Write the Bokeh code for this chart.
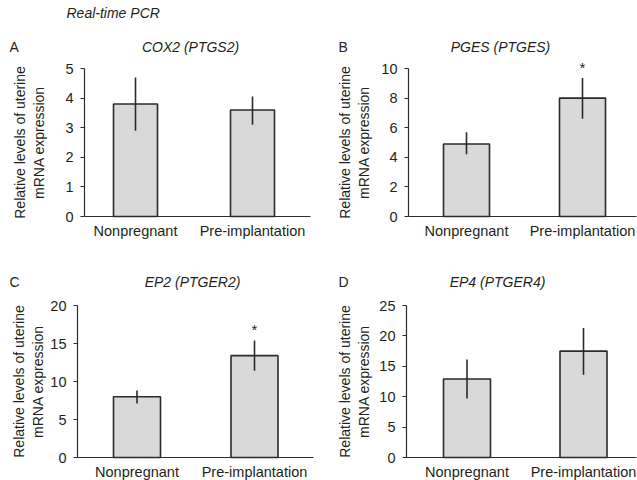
import math
from bokeh.plotting import figure
from bokeh.layouts import column, row
from bokeh.models import Range1d, FixedTicker, Label, LabelSet, ColumnDataSource
from bokeh.core.properties import value
from bokeh.embed import file_html
from bokeh.resources import INLINE

# ---------------- data ----------------
categories = ["Nonpregnant", "Pre-implantation"]

cox2_mean = [3.8, 3.6]
cox2_low = [2.9, 3.1]
cox2_high = [4.7, 4.05]
cox2_sig = ["", ""]
cox2_ticks = [0, 1, 2, 3, 4, 5]

pges_mean = [4.9, 8.0]
pges_low = [4.2, 6.6]
pges_high = [5.7, 9.35]
pges_sig = ["", "*"]
pges_ticks = [0, 2, 4, 6, 8, 10]

ep2_mean = [8.0, 13.4]
ep2_low = [7.1, 11.4]
ep2_high = [8.8, 15.4]
ep2_sig = ["", "*"]
ep2_ticks = [0, 5, 10, 15, 20]

ep4_mean = [12.9, 17.5]
ep4_low = [9.7, 13.6]
ep4_high = [16.1, 21.3]
ep4_sig = ["", ""]
ep4_ticks = [0, 5, 10, 15, 20, 25]

header_text = "Real-time PCR"
ylabel_text = "Relative levels of uterine\nmRNA expression"

# ---------------- style ----------------
FONT = "Liberation Sans"
TXT = "#231f20"
DARK = "#2b2b2b"
FILL = "#d9d9d9"
FS = "14px"


def panel(letter, title, means, lows, highs, sig, ticks, *, W, H,
          ax_left, ax_right, c0, c1, y_zero, y_top, bar_px,
          ylab_x, letter_x, title_x, text_y, header_xy=None):
    """All layout arguments are pixel positions inside the figure (from top-left)."""
    xs = [i + 0.5 for i in range(len(categories))]
    # linear pixel <-> data mapping (frame == whole figure)
    kx = (c1 - c0) / (xs[1] - xs[0])          # px per x unit
    x0 = xs[0] - c0 / kx
    x1 = x0 + W / kx
    ymax = ticks[-1]
    ky = (y_zero - y_top) / (ymax - ticks[0])  # px per y unit
    yb = ticks[0] - (H - y_zero) / ky
    yt = ticks[0] + y_zero / ky

    def dx(px):
        return x0 + px / kx

    def dy(py):
        return yb + (H - py) / ky

    p = figure(width=W, height=H, output_backend="svg", toolbar_location=None,
               x_range=Range1d(x0, x1), y_range=Range1d(yb, yt),
               min_border=0, min_border_left=0, min_border_right=0,
               min_border_top=0, min_border_bottom=0)
    p.outline_line_color = None
    p.xgrid.visible = False
    p.ygrid.visible = False
    p.background_fill_color = "white"
    p.border_fill_color = "white"

    src = ColumnDataSource(dict(x=xs, mean=means, low=lows, high=highs,
                                sig=sig, name=categories))
    p.vbar(x="x", top="mean", bottom=0, width=bar_px / kx, source=src,
           fill_color=FILL, line_color=DARK, line_width=1.6)
    p.segment(x0="x", y0="low", x1="x", y1="high", source=src,
              line_color=DARK, line_width=1.6)
    p.add_layout(LabelSet(x="x", y="high", text="sig", source=src,
                          text_align="center", text_baseline="bottom",
                          y_offset=2, text_font=value(FONT),
                          text_font_size=value("15px"), text_color=value(TXT)))

    # axes placed inside the frame
    xa = p.xaxis[0]
    xa.fixed_location = 0
    xa.bounds = (dx(ax_left), dx(ax_right))
    xa.ticker = FixedTicker(ticks=xs)
    xa.major_label_overrides = {x: c for x, c in zip(xs, categories)}
    xa.major_tick_line_color = None
    xa.minor_tick_line_color = None
    xa.axis_line_color = DARK
    xa.axis_line_width = 1.2
    xa.major_label_standoff = 0
    xa.major_label_text_font = FONT
    xa.major_label_text_font_size = "14.5px"
    xa.major_label_text_color = TXT

    ya = p.yaxis[0]
    ya.fixed_location = dx(ax_left)
    ya.bounds = (ticks[0], ymax)
    ya.ticker = FixedTicker(ticks=ticks)
    ya.minor_tick_line_color = None
    ya.major_tick_in = 0
    ya.major_tick_out = 4
    ya.major_tick_line_color = DARK
    ya.axis_line_color = DARK
    ya.axis_line_width = 1.2
    ya.major_label_standoff = 7
    ya.major_label_text_font = FONT
    ya.major_label_text_font_size = "14.5px"
    ya.major_label_text_color = TXT

    # texts
    p.add_layout(Label(x=dx(letter_x), y=dy(text_y), text=letter,
                       text_font=FONT, text_font_size=FS, text_color=TXT,
                       text_baseline="middle", text_align="left"))
    p.add_layout(Label(x=dx(title_x), y=dy(text_y), text=title,
                       text_font=FONT, text_font_size=FS, text_font_style="italic",
                       text_color=TXT, text_baseline="middle", text_align="center"))
    p.add_layout(Label(x=dx(ylab_x), y=dy((y_zero + y_top) / 2), text=ylabel_text,
                       angle=math.pi / 2, text_font=FONT, text_font_size=FS,
                       text_color=TXT, text_baseline="middle", text_align="center"))
    if header_xy is not None:
        p.add_layout(Label(x=dx(header_xy[0]), y=dy(header_xy[1]), text=header_text,
                           text_font=FONT, text_font_size=FS, text_font_style="italic",
                           text_color=TXT, text_baseline="middle", text_align="left"))
    return p


# figure pixel layout: top row 0..240, bottom row 240..480; left column 0..317, right 317..637
pA = panel("A", "COX2 (PTGS2)", cox2_mean, cox2_low, cox2_high, cox2_sig, cox2_ticks,
           W=317, H=240, ax_left=84, ax_right=310, c0=135, c1=252,
           y_zero=216, y_top=68, bar_px=44,
           ylab_x=29, letter_x=9, title_x=190, text_y=46, header_xy=(66, 12.5))
pB = panel("B", "PGES (PTGES)", pges_mean, pges_low, pges_high, pges_sig, pges_ticks,
           W=320, H=240, ax_left=91, ax_right=319, c0=149, c1=265,
           y_zero=216, y_top=68, bar_px=46,
           ylab_x=37, letter_x=21, title_x=183, text_y=46)
pC = panel("C", "EP2 (PTGER2)", ep2_mean, ep2_low, ep2_high, ep2_sig, ep2_ticks,
           W=317, H=240, ax_left=77, ax_right=313, c0=136.5, c1=254,
           y_zero=217, y_top=65, bar_px=47,
           ylab_x=28, letter_x=9, title_x=192, text_y=41)
pD = panel("D", "EP4 (PTGER4)", ep4_mean, ep4_low, ep4_high, ep4_sig, ep4_ticks,
           W=320, H=240, ax_left=89, ax_right=319, c0=149.5, c1=266,
           y_zero=217, y_top=65, bar_px=47,
           ylab_x=37, letter_x=21, title_x=180, text_y=41)

layout = column(row(pA, pB, spacing=0), row(pC, pD, spacing=0), spacing=0)

with open("out.html", "w") as f:
    f.write(file_html(layout, INLINE))
